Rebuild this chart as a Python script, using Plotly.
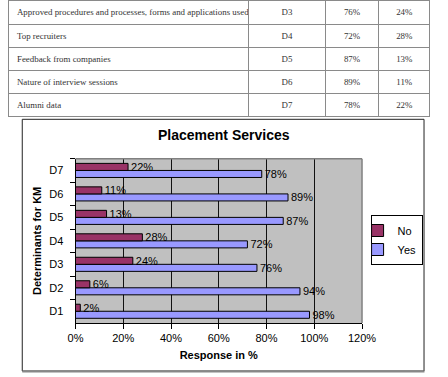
import plotly.graph_objects as go

# ---------------- data ----------------
table_names = [
    "Approved procedures and processes, forms and applications used",
    "Top recruiters",
    "Feedback from companies",
    "Nature of interview sessions",
    "Alumni data",
]
table_codes = ["D3", "D4", "D5", "D6", "D7"]
table_yes = ["76%", "72%", "87%", "89%", "78%"]
table_no = ["24%", "28%", "13%", "11%", "22%"]

categories = ["D1", "D2", "D3", "D4", "D5", "D6", "D7"]
yes_values = [98, 94, 76, 72, 87, 89, 78]
no_values = [2, 6, 24, 28, 13, 11, 22]

chart_title = "Placement Services"
x_title = "Response in %"
y_title = "Determinants for KM"

# ---------------- geometry helpers ----------------
W, H = 448, 377
def px(x):
    return x / W
def py(y):
    return 1 - y / H

# keep table text on one line (non-breaking spaces)
names_nb = [s.replace(" ", "\u00a0") for s in table_names]

fig = go.Figure()

tfont = dict(family="Liberation Serif", size=8.9, color="#333333")
fig.add_trace(go.Table(
    domain=dict(x=[px(1), px(444)], y=[py(121), 1]),
    columnwidth=[252, 81, 56, 54],
    header=dict(
        values=[names_nb[0], table_codes[0], table_yes[0], table_no[0]],
        height=24,
        fill_color="white",
        line=dict(color="#8a8a8a", width=1),
        align=["left", "center", "center", "center"],
        font=tfont,
    ),
    cells=dict(
        values=[names_nb[1:], table_codes[1:], table_yes[1:], table_no[1:]],
        height=23,
        fill_color="white",
        line=dict(color="#8a8a8a", width=1),
        align=["left", "center", "center", "center"],
        font=tfont,
    ),
))

# Bars
fig.add_trace(go.Bar(
    y=categories, x=yes_values, orientation="h", name="Yes",
    marker=dict(color="#9999FF", line=dict(color="#000000", width=1)),
    text=[f"{v}%" for v in yes_values], textposition="outside",
    constraintext="none", cliponaxis=False,
    textfont=dict(family="Arial", size=11, color="#000000"),
))
fig.add_trace(go.Bar(
    y=categories, x=no_values, orientation="h", name="No",
    marker=dict(color="#993366", line=dict(color="#000000", width=1)),
    text=[f"{v}%" for v in no_values], textposition="outside",
    constraintext="none", cliponaxis=False,
    textfont=dict(family="Arial", size=11, color="#000000"),
))

fig.update_layout(
    width=W, height=H,
    margin=dict(l=0, r=0, t=0, b=0),
    paper_bgcolor="white",
    plot_bgcolor="#C0C0C0",
    barmode="group", bargap=0.4, bargroupgap=0,
    font=dict(family="Arial", size=11, color="#000000"),
    showlegend=True,
    legend=dict(
        x=px(436), y=py(240), xanchor="right", yanchor="middle",
        bgcolor="white", bordercolor="#000000", borderwidth=1,
        traceorder="reversed", font=dict(family="Arial", size=11),
        itemwidth=30, indentation=-14, tracegroupgap=0,
    ),
    xaxis=dict(
        domain=[px(71), px(372.3)],
        range=[0, 120], dtick=20, ticksuffix="%",
        showgrid=True, gridcolor="#111111", gridwidth=1,
        zeroline=False,
        showline=True, linecolor="#000000", linewidth=1,
        ticks="outside", ticklen=5, tickcolor="#000000",
        tickfont=dict(family="Arial", size=11),
        title=dict(text=f"<b>{x_title}</b>", font=dict(family="Arial", size=11), standoff=8),
        fixedrange=True,
    ),
    yaxis=dict(
        domain=[py(323), py(158.7)],
        type="category", categoryorder="array", categoryarray=categories,
        showgrid=False, zeroline=False,
        showline=True, linecolor="#000000", linewidth=1,
        ticks="outside", ticklen=5, tickcolor="#000000", tickson="boundaries",
        ticklabelstandoff=9,
        tickfont=dict(family="Arial", size=11),
        title=dict(text=f"<b>{y_title}</b>", font=dict(family="Arial", size=11), standoff=5),
        fixedrange=True,
    ),
    annotations=[dict(
        text=f"<b>{chart_title}</b>", xref="paper", yref="paper",
        x=px(227), y=py(135), xanchor="center", yanchor="middle",
        showarrow=False, font=dict(family="Arial", size=14, color="#000000"),
    )],
    shapes=[
        dict(type="rect", xref="paper", yref="paper",
             x0=px(15), x1=px(437.5), y0=py(371), y1=py(119.3),
             line=dict(color="#222222", width=1), layer="below"),
        dict(type="line", xref="paper", yref="paper",
             x0=px(15), x1=px(438), y0=py(371.5), y1=py(371.5),
             line=dict(color="#888888", width=2)),
        dict(type="line", xref="x domain", yref="y domain",
             x0=0, x1=1, y0=1, y1=1, line=dict(color="#808080", width=1.5)),
        dict(type="line", xref="x domain", yref="y domain",
             x0=1, x1=1, y0=0, y1=1, line=dict(color="#808080", width=1.5)),
    ],
)

fig.write_html("out.html")
